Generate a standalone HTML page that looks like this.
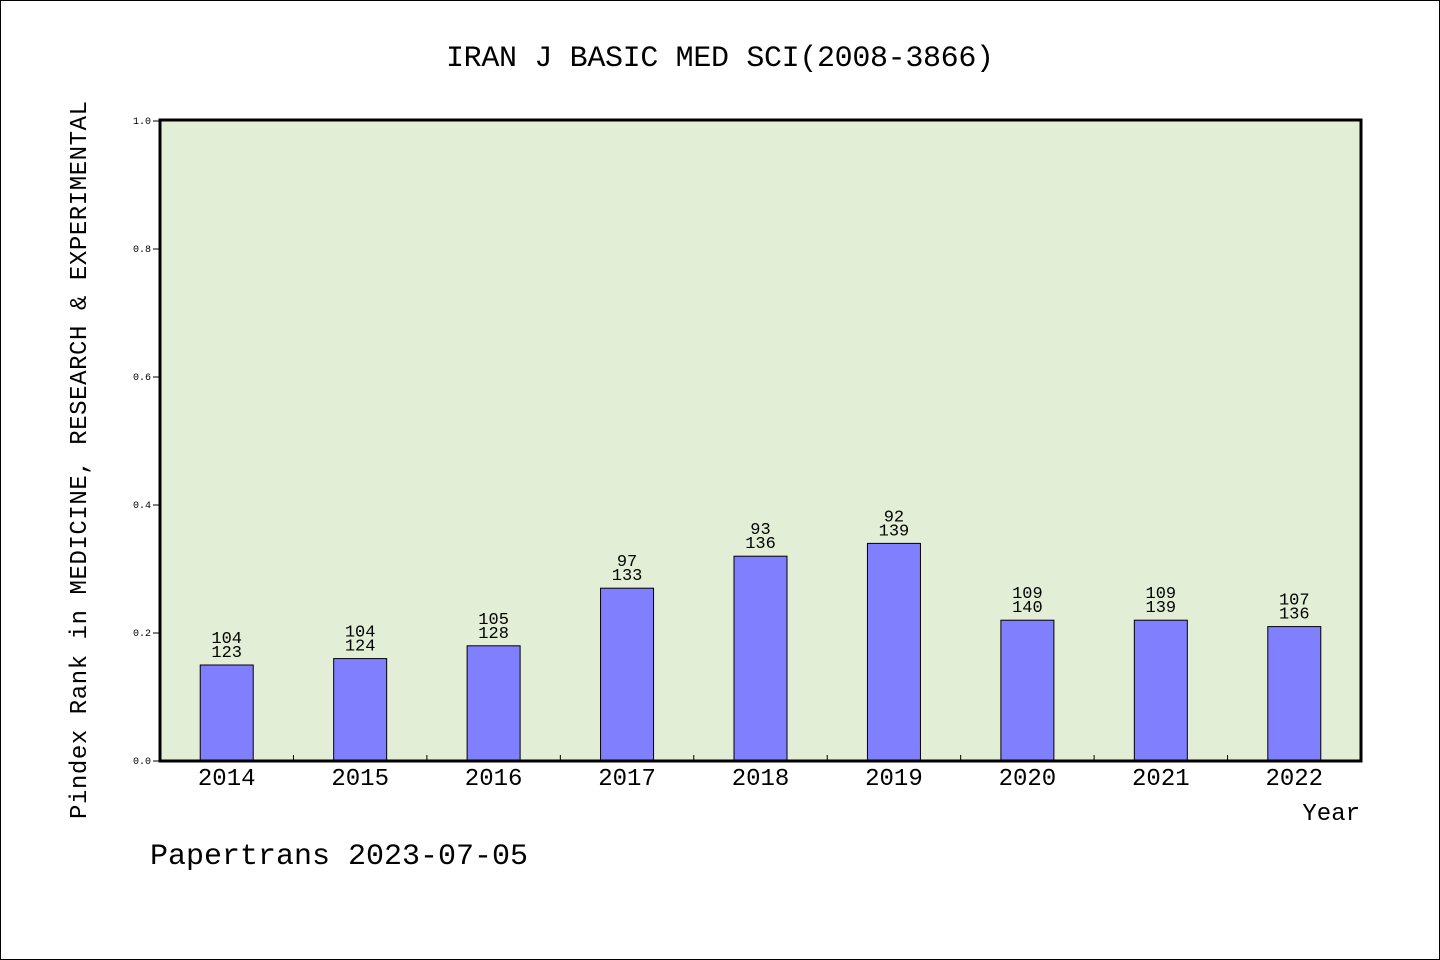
<!DOCTYPE html>
<html><head><meta charset="utf-8"><style>
html,body{margin:0;padding:0;background:#fff}
svg{display:block}
text{font-family:"WenQuanYi Zen Hei","Liberation Mono",monospace;fill:#000}
</style></head><body>
<svg id="chart" width="1440" height="960">
<rect x="0.5" y="0.5" width="1439" height="959" fill="#fff" stroke="#000"/>
<text x="720" y="66" font-size="30" text-anchor="middle" textLength="548">IRAN J BASIC MED SCI(2008-3866)</text>
<rect x="160" y="120" width="1201" height="641" fill="#e2efd6"/>
<g id="bars"></g>
<rect x="160" y="120" width="1201" height="641" fill="none" stroke="#000" stroke-width="3"/>
<g id="axes"></g>
<text transform="translate(86,460) rotate(-90)" font-size="24" text-anchor="middle" textLength="718">Pindex Rank in MEDICINE, RESEARCH &amp; EXPERIMENTAL</text>
<text x="1360" y="820" font-size="24" text-anchor="end">Year</text>
<text x="150" y="864" font-size="30">Papertrans 2023-07-05</text>
</svg>
<script>
const years=["2014","2015","2016","2017","2018","2019","2020","2021","2022"];
const values=[0.15,0.16,0.18,0.27,0.32,0.34,0.22,0.22,0.21];
const ranks=["104","104","105","97","93","92","109","109","107"];
const totals=["123","124","128","133","136","139","140","139","136"];
const yTicks=[0,0.2,0.4,0.6,0.8,1.0];
const NS="http://www.w3.org/2000/svg";
const X0=160,X1=1361,Y0=761,Y1=121;
const band=(X1-X0)/years.length;
const xc=i=>X0+band*(i+0.5);
const y=v=>Y0-(Y0-Y1)*v;
function mk(tag,attrs,parent){const e=document.createElementNS(NS,tag);for(const k in attrs)e.setAttribute(k,attrs[k]);parent.appendChild(e);return e;}
const bars=document.getElementById('bars'),axes=document.getElementById('axes');
const bw=53;
years.forEach((yr,i)=>{
  const r=mk('rect',{x:xc(i)-bw/2,y:y(values[i]),width:bw,height:Y0-y(values[i]),fill:'#8080ff',stroke:'#000','stroke-width':1},bars);
  
  
  const t1=mk('text',{x:xc(i),y:y(values[i])-22,'font-size':17,'text-anchor':'middle'},bars);
  t1.textContent=ranks[i];
  
  
  const t2=mk('text',{x:xc(i),y:y(values[i])-8,'font-size':17,'text-anchor':'middle'},bars);
  t2.textContent=totals[i];
  
  
  const xl=mk('text',{x:xc(i),y:785,'font-size':24,'text-anchor':'middle'},axes);
  xl.textContent=yr;
  
  
  if(i>0){const tk=mk('line',{x1:X0+band*i,x2:X0+band*i,y1:Y0,y2:Y0-6,stroke:'#000'},axes);
  
  }
});
yTicks.forEach(v=>{
  const tk=mk('line',{x1:153,x2:160,y1:y(v),y2:y(v),stroke:'#000'},axes);
  
  
  const t=mk('text',{x:151,y:y(v)+3,'font-size':10,'text-anchor':'end','font-family':'Liberation Sans, sans-serif'},axes);
  t.textContent=v.toFixed(1);
  
  
});
</script>
</body></html>
